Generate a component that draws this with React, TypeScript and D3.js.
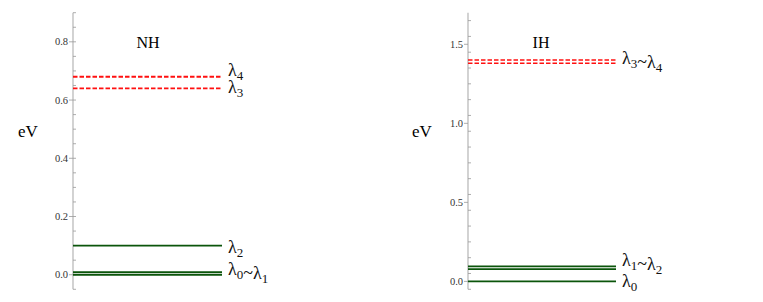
import React, { useEffect, useRef } from 'react';
import * as d3 from 'd3';

// energy levels in eV
const nhSolid = [0, 0.009, 0.1];
const nhDashed = [0.64, 0.68];
const ihSolid = [0, 0.078, 0.095];
const ihDashed = [1.38, 1.4];

const nhTicks = [0, 0.2, 0.4, 0.6, 0.8];
const ihTicks = [0, 0.5, 1.0, 1.5];

// each label: list of [text, subscript] pieces, and the level it sits by
const nhLabelParts = [[['λ', '4']], [['λ', '3']], [['λ', '2']], [['λ', '0'], ['~λ', '1']]];
const nhLabelLevels = [0.68, 0.64, 0.1, 0.0045];
const ihLabelParts = [[['λ', '3'], ['~λ', '4']], [['λ', '1'], ['~λ', '2']], [['λ', '0']]];
const ihLabelLevels = [1.39, 0.0865, 0];

const W = 763, H = 302;

const panels = [
  { title: 'NH', axisX: 73, width: 149, domain: [-0.05, 0.9], minor: 0.05, ticks: nhTicks,
    solid: nhSolid, dashed: nhDashed, dashW: 1.8, labels: nhLabelParts, labelLevels: nhLabelLevels,
    shifts: [-3, 3, 5, 0], titleX: 148, evX: 28 },
  { title: 'IH', axisX: 468, width: 148, domain: [-0.05, 1.7], minor: 0.1, ticks: ihTicks,
    solid: ihSolid, dashed: ihDashed, dashW: 1.5, labels: ihLabelParts, labelLevels: ihLabelLevels,
    shifts: [0, -4, 4], titleX: 541, evX: 422 },
];

const draw = (node) => {
  const svg = d3.select(node);
  svg.selectAll('*').remove();

  panels.forEach((p) => {
    const y = d3.scaleLinear().domain(p.domain).range([289.3, 12.7]);
    const x = d3.scaleLinear().domain([0, 1]).range([p.axisX, p.axisX + p.width]);
    const g = svg.append('g');

    // axis line
    g.append('line')
      .attr('x1', p.axisX).attr('x2', p.axisX)
      .attr('y1', y(p.domain[0])).attr('y2', y(p.domain[1]))
      .attr('stroke', '#bbb').attr('stroke-width', 1.3);

    // minor ticks
    const minors = d3.range(p.domain[0], p.domain[1] + 1e-9, p.minor);
    g.selectAll('.minor').data(minors).enter().append('line')
      .attr('x1', p.axisX).attr('x2', p.axisX + 3)
      .attr('y1', (d) => y(d)).attr('y2', (d) => y(d))
      .attr('stroke', '#999').attr('stroke-width', 0.8);

    // major ticks + labels
    g.selectAll('.major').data(p.ticks).enter().append('line')
      .attr('x1', p.axisX - 4).attr('x2', p.axisX)
      .attr('y1', (d) => y(d)).attr('y2', (d) => y(d))
      .attr('stroke', '#999').attr('stroke-width', 0.8);
    g.selectAll('.tl').data(p.ticks).enter().append('text')
      .attr('x', p.axisX - 5).attr('y', (d) => y(d))
      .attr('text-anchor', 'end').attr('dominant-baseline', 'central')
      .attr('font-family', 'Liberation Serif').attr('font-size', 10.5)
      .attr('fill', '#333')
      .text((d) => d3.format('.1f')(d));

    // levels
    g.selectAll('.solid').data(p.solid).enter().append('line')
      .attr('x1', x(0)).attr('x2', x(1))
      .attr('y1', (d) => y(d)).attr('y2', (d) => y(d))
      .attr('stroke', '#0b550b').attr('stroke-width', 1.8);
    g.selectAll('.dashed').data(p.dashed).enter().append('line')
      .attr('x1', x(0)).attr('x2', x(1))
      .attr('y1', (d) => y(d)).attr('y2', (d) => y(d))
      .attr('stroke', '#ff1010').attr('stroke-width', p.dashW)
      .attr('stroke-dasharray', '4.5,2');

    // level labels
    p.labels.forEach((parts, i) => {
      const t = g.append('text')
        .attr('x', x(1) + 6).attr('y', y(p.labelLevels[i]) + p.shifts[i] + 2)
        .attr('font-family', 'Liberation Serif').attr('font-size', 18)
        .attr('fill', '#111');
      parts.forEach(([main, sub]) => {
        t.append('tspan').text(main);
        t.append('tspan').attr('dy', 4).attr('font-size', 13).text(sub);
        t.append('tspan').attr('dy', -4).text('');
      });
    });

    // title and unit
    g.append('text')
      .attr('x', p.titleX).attr('y', 48)
      .attr('text-anchor', 'middle')
      .attr('font-family', 'Liberation Serif').attr('font-size', 16)
      .text(p.title);
    g.append('text')
      .attr('x', p.evX).attr('y', 137)
      .attr('text-anchor', 'middle')
      .attr('font-family', 'Liberation Serif').attr('font-size', 17)
      .text('eV');
  });
};

export default function App() {
  const ref = useRef(null);
  useEffect(() => {
    draw(ref.current);
  }, []);
  return (
    <svg ref={ref} width={W} height={H}
      style={{ position: 'absolute', left: 0, top: 0, background: '#fff' }} />
  );
}
